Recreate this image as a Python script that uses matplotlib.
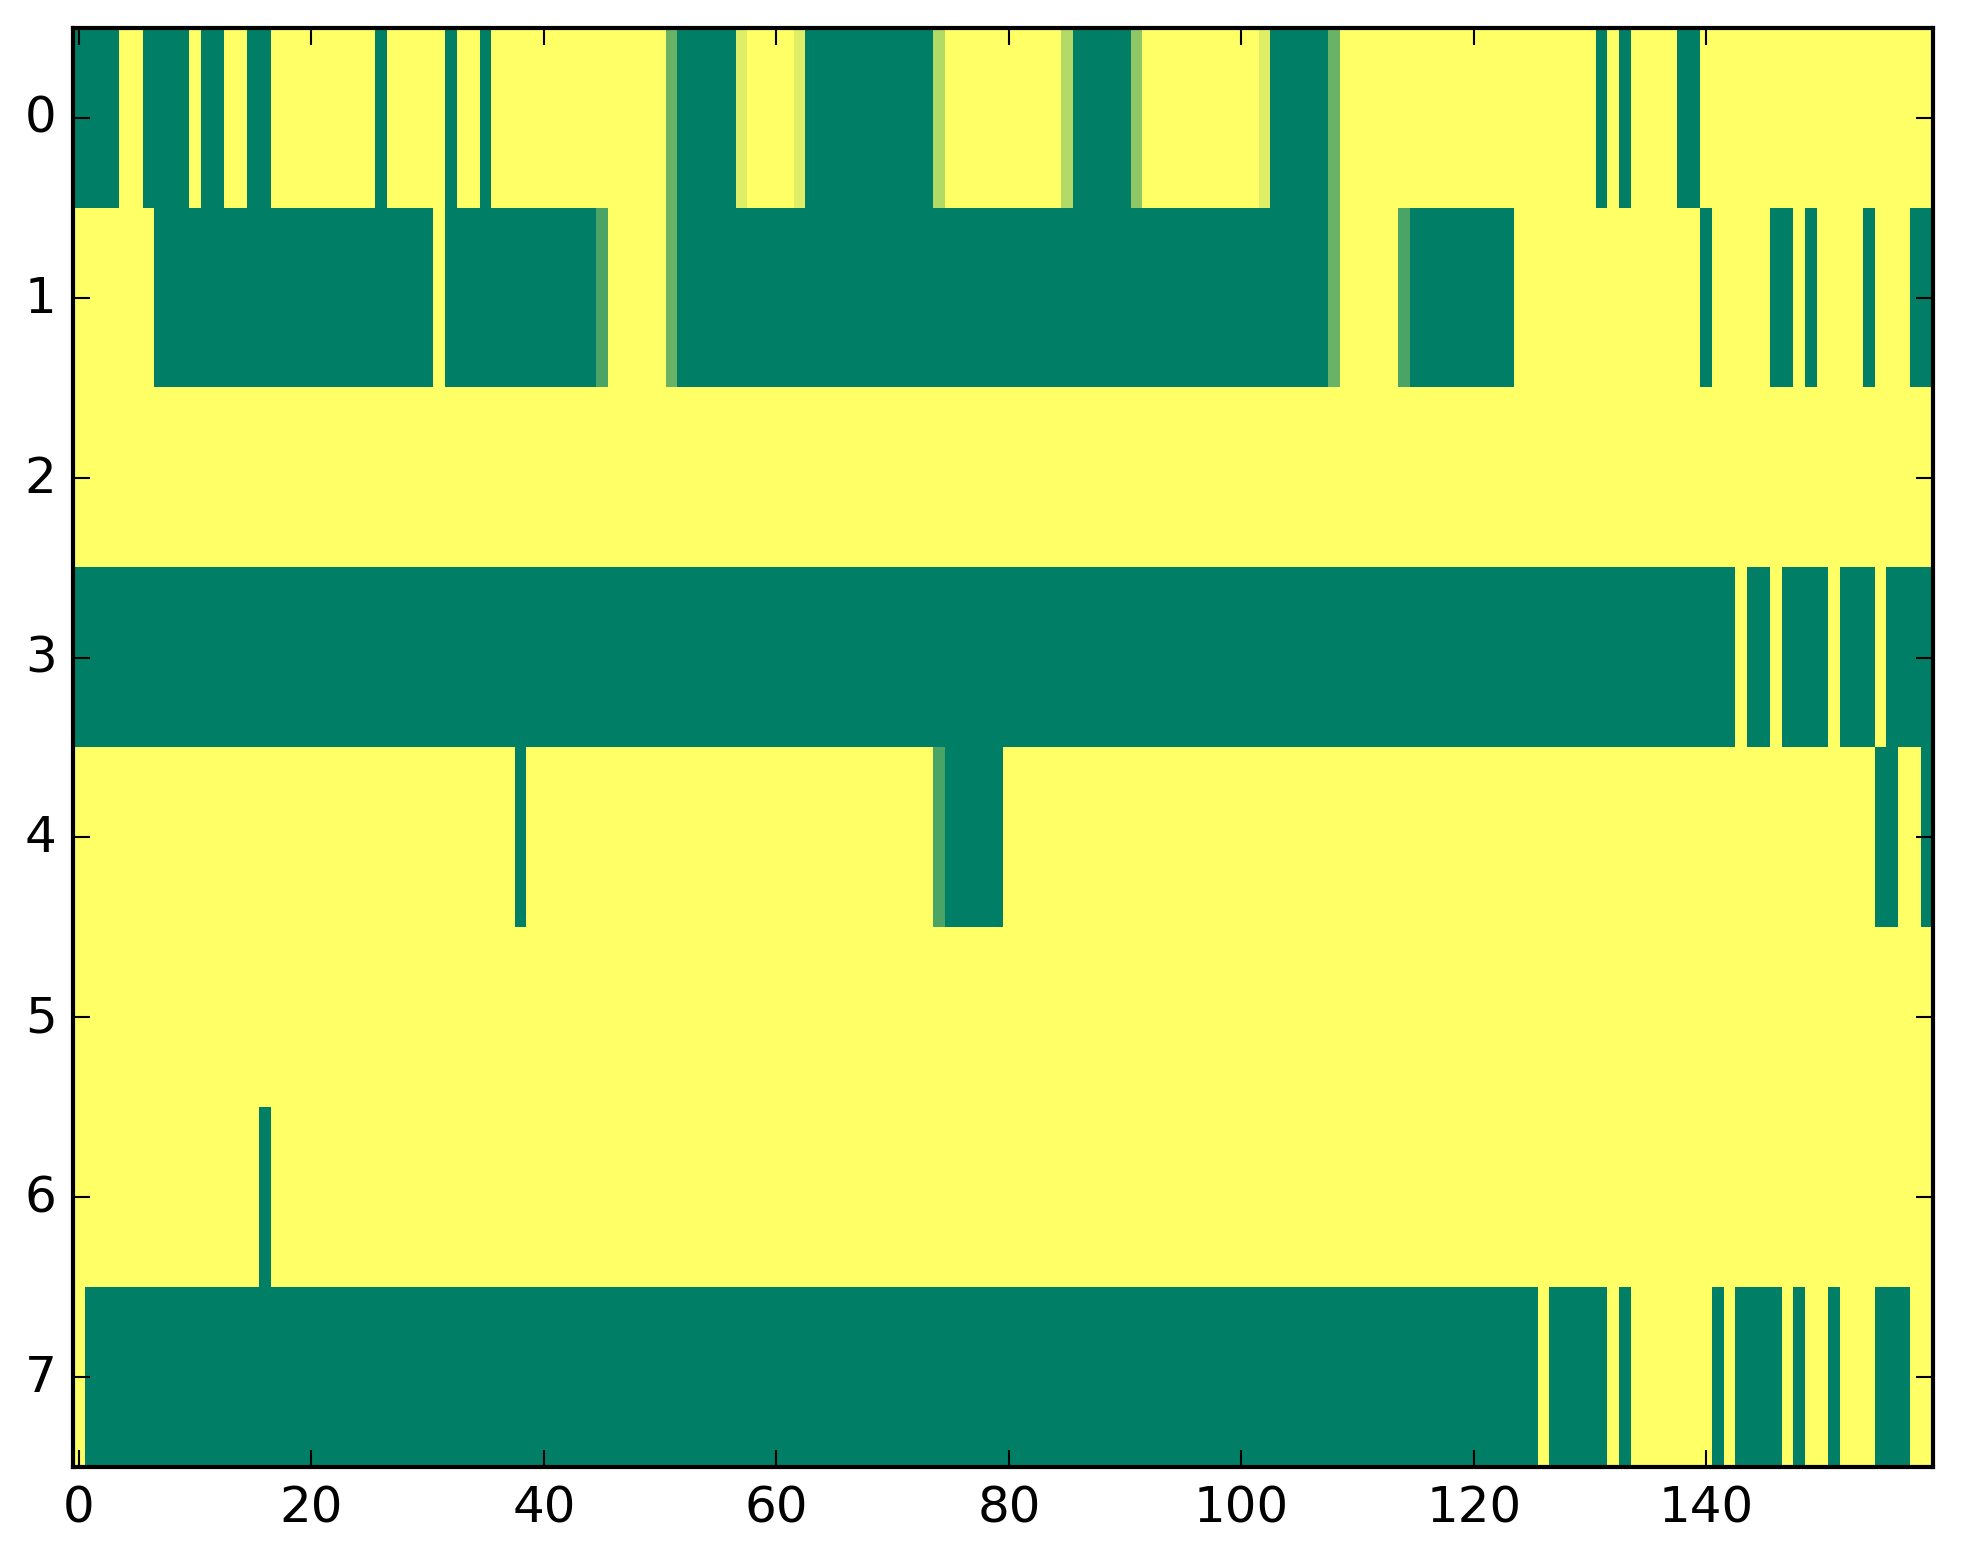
import matplotlib
matplotlib.use('Agg')
import matplotlib.pyplot as plt
import numpy as np

plt.style.use('classic')

# colour values: 0 = green end of 'summer', 1 = yellow end
G = 0.0
Y = 1.0

# each row as (value, run length) pairs, 160 columns per row
row0 = [(G, 4), (Y, 2), (G, 4), (Y, 1), (G, 2), (Y, 2), (G, 2), (Y, 9), (G, 1), (Y, 5),
        (G, 1), (Y, 2), (G, 1), (Y, 15), (0.41, 1), (G, 5), (0.87, 1), (Y, 4), (0.87, 1),
        (G, 11), (0.70, 1), (Y, 10), (0.70, 1), (G, 5), (0.56, 1), (Y, 10), (0.87, 1),
        (G, 5), (0.41, 1), (Y, 22), (G, 1), (Y, 1), (G, 1), (Y, 4), (G, 2), (Y, 20)]
row1 = [(Y, 7), (G, 24), (Y, 1), (G, 13), (0.29, 1), (Y, 5), (0.41, 1), (G, 56), (0.41, 1),
        (Y, 5), (0.29, 1), (G, 9), (Y, 16), (G, 1), (Y, 5), (G, 2), (Y, 1), (G, 1), (Y, 4),
        (G, 1), (Y, 3), (G, 2)]
row2 = [(Y, 160)]
row3 = [(G, 143), (Y, 1), (G, 2), (Y, 1), (G, 4), (Y, 1), (G, 3), (Y, 1), (G, 4)]
row4 = [(Y, 38), (G, 1), (Y, 35), (0.29, 1), (G, 5), (Y, 75), (G, 2), (Y, 2), (G, 1)]
row5 = [(Y, 160)]
row6 = [(Y, 16), (G, 1), (Y, 143)]
row7 = [(Y, 1), (G, 125), (Y, 1), (G, 5), (Y, 1), (G, 1), (Y, 7), (G, 1), (Y, 1), (G, 4),
        (Y, 1), (G, 1), (Y, 2), (G, 1), (Y, 3), (G, 3), (Y, 2)]

rows = [row0, row1, row2, row3, row4, row5, row6, row7]


def expand(runs):
    out = []
    for v, n in runs:
        out += [v] * n
    assert len(out) == 160, len(out)
    return out


data = np.array([expand(r) for r in rows])

fig = plt.figure(figsize=(1963 / 300, 1564 / 300), dpi=300)
ax = fig.add_axes([73.2 / 1963, (1564 - 1468) / 1564,
                   (1933 - 73.2) / 1963, (1468 - 29) / 1564])
ax.imshow(data, cmap='summer', vmin=0, vmax=1, aspect='auto',
          interpolation='nearest')
ax.set_xticks(np.arange(0, 141, 20))
ax.set_yticks(np.arange(0, 8))
ax.set_xlim(-0.5, 159.5)
ax.set_ylim(7.5, -0.5)

fig.savefig('out.png', dpi=300)
